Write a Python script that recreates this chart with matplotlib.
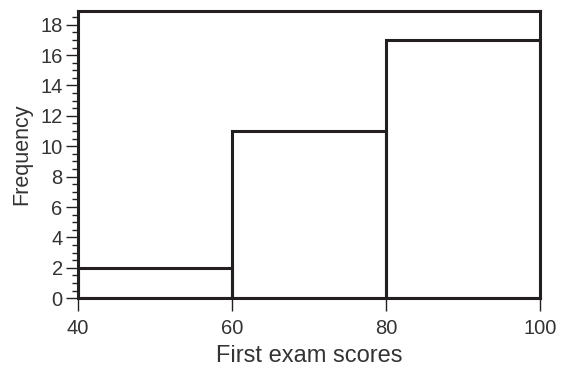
import matplotlib
matplotlib.use("Agg")
import matplotlib.pyplot as plt
from matplotlib.ticker import MultipleLocator

plt.rcParams['font.family'] = ['Liberation Sans', 'DejaVu Sans']

# histogram data
bin_edges = [40, 60, 80, 100]
frequencies = [2, 11, 17]
x_ticks = [40, 60, 80, 100]

INK = '#231f20'
TEXT = '#333333'

fig = plt.figure(figsize=(5.61, 3.69), dpi=100)
ax = fig.add_axes([0.139, 0.192, 0.824, 0.778])

lefts = bin_edges[:-1]
widths = [b - a for a, b in zip(bin_edges[:-1], bin_edges[1:])]
ax.bar(lefts, frequencies, width=widths, align='edge', fill=False,
       edgecolor=INK, linewidth=2.2, zorder=3)

ax.set_xlim(40, 100)
ax.set_ylim(0, 18.9)
ax.set_xticks(x_ticks)
ax.yaxis.set_major_locator(MultipleLocator(2))
ax.yaxis.set_minor_locator(MultipleLocator(0.5))

for s in ax.spines.values():
    s.set_linewidth(2.2)
    s.set_color(INK)

ax.tick_params(axis='both', which='major', direction='out', length=9, width=1,
               color=INK, labelcolor=TEXT, labelsize=14.5, pad=2)
ax.tick_params(axis='y', which='minor', direction='out', length=4, width=1, color=INK)
ax.tick_params(axis='x', which='major', pad=6)

ax.set_xlabel('First exam scores', fontsize=17, color=TEXT, labelpad=5)
ax.set_ylabel('Frequency', fontsize=15.5, color=TEXT, labelpad=6)

fig.savefig('out.png', dpi=100)
